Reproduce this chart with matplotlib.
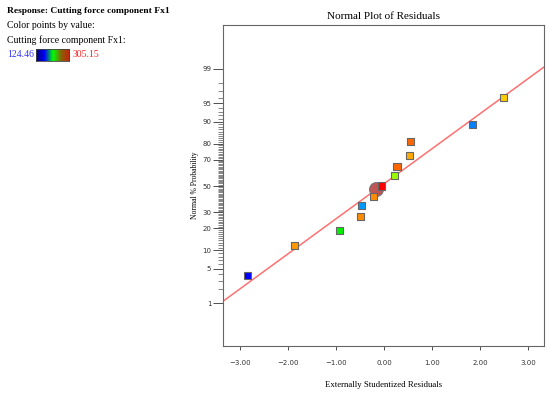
import numpy as np
import matplotlib
matplotlib.use("Agg")
import matplotlib.pyplot as plt
from matplotlib.colors import LinearSegmentedColormap
from statistics import NormalDist

# =========================
# 1. Data
# =========================
resid = [-2.85, -1.87, -0.93, -0.48, -0.46, -0.21, -0.06, 0.21, 0.27, 0.54, 0.56, 1.85, 2.49]
prob = [3.8, 11.7, 19.0, 27.0, 35.0, 42.0, 50.0, 58.0, 65.0, 73.0, 81.0, 89.0, 96.0]
point_colors = ["#0000ff", "#ff9900", "#00ee00", "#ff8c00", "#0099ff", "#ff8c00", "#ff0000",
                "#99ff00", "#ff6600", "#ffaa00", "#ff6600", "#0080ff", "#ffcc00"]

# overlapping points shown as a circle
circle_x = [-0.16]
circle_p = [48.0]

# fitted normal line end points
line_x = [-3.35, 3.33]
line_p = [1.1, 99.1]

resp_min, resp_max = 124.46, 305.15

y_major = [1, 5, 10, 20, 30, 50, 70, 80, 90, 95, 99]
y_minor = [2, 3, 4, 6, 7, 8, 9] + list(range(11, 90)) + [91, 92, 93, 94, 96, 97, 98]
x_ticks = [-3, -2, -1, 0, 1, 2, 3]

# =========================
# 2. Probit scale
# =========================
_nd = NormalDist()


def fwd(p):
    p = np.clip(np.asarray(p, dtype=float), 1e-6, 100 - 1e-6)
    return np.vectorize(lambda v: _nd.inv_cdf(v / 100.0))(p)


def inv(z):
    z = np.asarray(z, dtype=float)
    return np.vectorize(lambda v: _nd.cdf(v) * 100.0)(z)


# =========================
# 3. Figure
# =========================
fig = plt.figure(figsize=(5.5, 3.94), dpi=100)
ax = fig.add_axes([0.4055, 0.1218, 0.5836, 0.8147])
ax.set_yscale("function", functions=(fwd, inv))

ax.plot(line_x, line_p, color="#ff7070", lw=1.1, zorder=2)
ax.scatter(circle_x, circle_p, s=100, color="#c05555", edgecolors="#777777", lw=0.8, zorder=3)
ax.scatter(resid, prob, s=26, marker="s", c=point_colors, edgecolors="#666666", lw=0.8, zorder=4)

ax.set_xlim(-3.35, 3.33)
ax.set_ylim(inv(-3.18), inv(3.2))

ax.set_xticks(x_ticks)
ax.set_xticklabels([f"{v:.2f}".replace("-", "\u2212") for v in x_ticks])
ax.set_yticks(y_major)
ax.set_yticklabels([str(v) for v in y_major])
ax.set_yticks(y_minor, minor=True)
ax.tick_params(axis="both", labelsize=5, colors="#333333", width=0.6)
ax.tick_params(axis="y", which="major", length=7.5, pad=1)
ax.tick_params(axis="y", which="minor", length=3.5, width=0.5, colors="#555555")
ax.tick_params(axis="x", which="major", length=3, pad=7)
ax.tick_params(axis="x", which="minor", length=0)

for s in ax.spines.values():
    s.set_color("#666666")
    s.set_linewidth(0.8)

ax.set_title("Normal Plot of Residuals", fontsize=8, family="Liberation Serif", pad=4)
ax.set_xlabel("Externally Studentized Residuals", fontsize=6.3, family="Liberation Serif", labelpad=11)
ax.set_ylabel("Normal % Probability", fontsize=5.5, family="Liberation Serif", labelpad=2)

# =========================
# 4. Left-hand legend text
# =========================
fig.text(0.013, 0.973, "Response: Cutting force component Fx1", fontsize=6.8,
         family="Liberation Serif", weight="bold", va="center")
fig.text(0.013, 0.935, "Color points by value:", fontsize=7, family="Liberation Serif", va="center")
fig.text(0.013, 0.897, "Cutting force component Fx1:", fontsize=7, family="Liberation Serif", va="center")
fig.text(0.013, 0.861, f"{resp_min:.2f}", fontsize=7, family="Liberation Serif", color="#3333ff", va="center")
fig.text(0.132, 0.861, f"{resp_max:.2f}", fontsize=7, family="Liberation Serif", color="#ff2222", va="center")

cmap = LinearSegmentedColormap.from_list("resp", ["#000070", "#0000ff", "#00ff00", "#8a6000", "#c82010"])
cax = fig.add_axes([0.065, 0.845, 0.0605, 0.030])
cax.imshow(np.linspace(0, 1, 200)[None, :], aspect="auto", cmap=cmap)
cax.set_xticks([])
cax.set_yticks([])
for s in cax.spines.values():
    s.set_color("#444444")
    s.set_linewidth(0.6)

fig.savefig("out.png", dpi=100)
